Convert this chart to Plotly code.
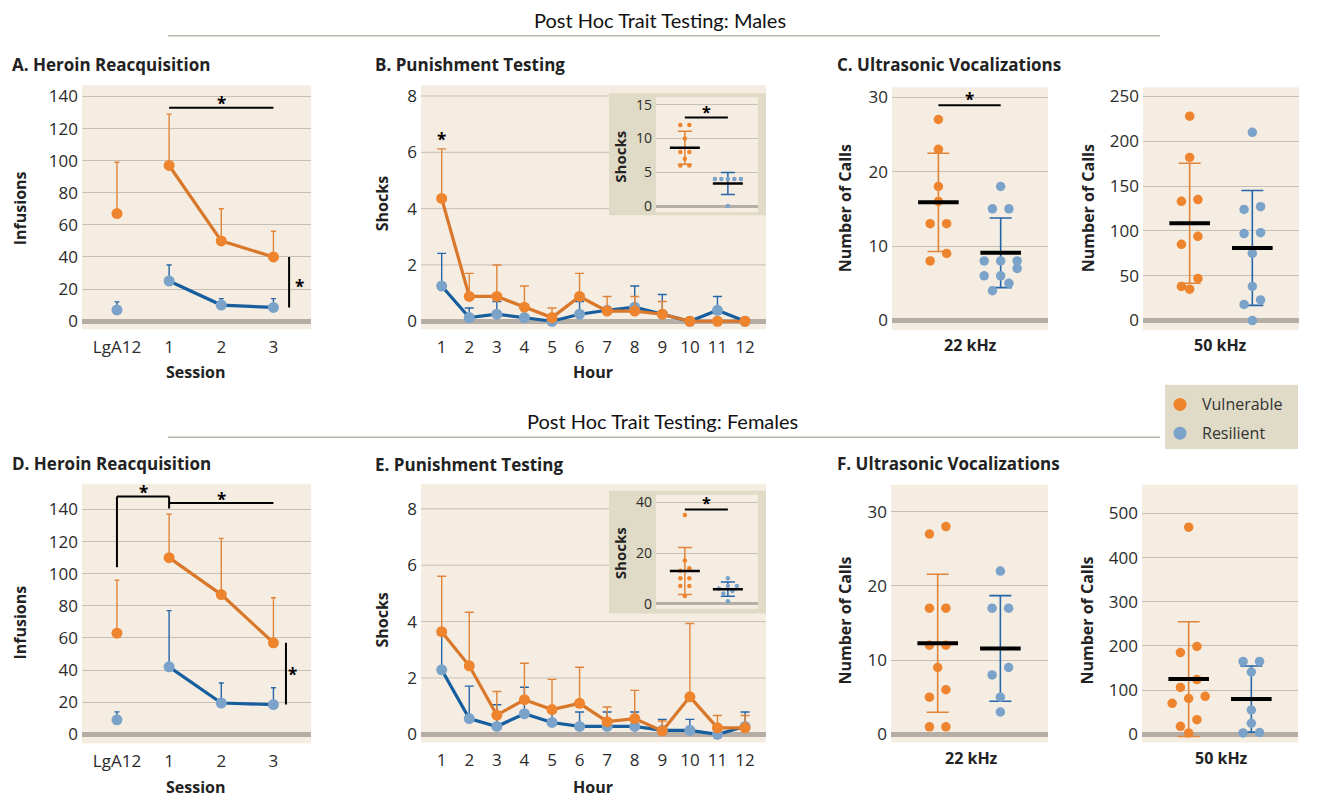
import numpy as np
import plotly.graph_objects as go

W, H = 1317, 802
FONT = "'Open Sans', Lato, 'DejaVu Sans', sans-serif"
TXT = "#222222"

# ---------------- data ----------------
sessions = ["LgA12", "1", "2", "3"]
A_vul = [67, 97, 50, 40]
A_vul_up = [99, 129, 70, 56]
A_res = [7, 25, 10, 8.5]
A_res_up = [12, 35, 14, 14]

D_vul = [63, 110, 87, 57]
D_vul_up = [96, 137, 122, 85]
D_res = [9, 42, 19.5, 18.5]
D_res_up = [14, 77, 32, 29]

hours = list(range(1, 13))
B_vul = [4.36, 0.88, 0.88, 0.50, 0.13, 0.88, 0.36, 0.36, 0.25, 0, 0, 0]
B_vul_up = [6.12, 1.70, 2.00, 1.25, 0.47, 1.70, 0.88, 0.88, 0.70, 0, 0, 0]
B_res = [1.25, 0.13, 0.25, 0.13, 0, 0.25, 0.39, 0.50, 0.25, 0, 0.39, 0]
B_res_up = [2.41, 0.47, 0.70, 0.13, 0, 0.70, 0.39, 1.25, 0.95, 0, 0.88, 0]

E_vul = [3.64, 2.43, 0.68, 1.23, 0.88, 1.10, 0.45, 0.56, 0.12, 1.33, 0.23, 0.23]
E_vul_up = [5.61, 4.33, 1.52, 2.52, 1.95, 2.38, 0.97, 1.56, 0.47, 3.93, 0.67, 0.67]
E_res = [2.29, 0.56, 0.28, 0.73, 0.42, 0.28, 0.28, 0.28, 0.14, 0.14, 0.0, 0.28]
E_res_up = [3.53, 1.71, 1.05, 1.67, 0.80, 0.79, 0.79, 0.79, 0.53, 0.53, 0.0, 0.79]

B_ins_vul = [12, 12, 10, 8, 8, 7, 6, 6]
B_ins_res = [4, 4, 4, 4, 4, 0]
E_ins_vul = [35, 17, 14, 13, 10, 10, 7, 7, 3]
E_ins_res = [10, 7, 7, 6, 5, 4, 1]

C22_vul = [27, 23, 18, 16, 13, 13, 9, 8]
C22_res = [18, 15, 15, 8, 8, 8, 7, 6, 6, 5, 4]
C50_vul = [228, 182, 135, 133, 94, 85, 47, 38, 35]
C50_res = [210, 127, 124, 98, 97, 75, 38, 23, 18, 0]
F22_vul = [28, 27, 17, 17, 12, 12, 9, 6, 5, 1, 1]
F22_res = [22, 17, 17, 9, 8, 5, 3]
F50_vul = [469, 199, 185, 124, 106, 86, 81, 70, 33, 18, 3]
F50_res = [165, 165, 141, 55, 25, 4, 3]

groups = ["Vulnerable", "Resilient"]

# ---------------- style ----------------
BG = "#F5EDE2"
INSET_BG = "#E0DBC6"
GRID = "#C6BFB6"
ZERO = "#B4AEA6"
OR_LINE = "#D9782B"
OR_MK = "#EE842D"
OR_ERR = "#E0843A"
BL_LINE = "#175E9E"
BL_MK = "#7BA3CA"
BL_ERR = "#2466A8"
TICK = "#2b2b2b"

# panel geometry in pixels: (left, right, top, bottom)
panels = {
    1: dict(px=(82, 311, 83, 329), xr=(-0.67, 3.72), yr=(-5, 147), dtick=20),
    2: dict(px=(421, 766, 83, 329), xr=(0.25, 12.76), yr=(-0.28, 8.38), dtick=2, grid=False),
    3: dict(px=(656, 758, 95, 211), xr=(-0.67, 1.70), yr=(-0.9, 16.1), dtick=5, zw=3, tfs=14),
    4: dict(px=(892, 1048, 85, 330), xr=(-0.745, 1.76), yr=(-1.29, 31.33), dtick=10),
    5: dict(px=(1143, 1299, 85, 330), xr=(-0.745, 1.745), yr=(-10.7, 260.3), dtick=50),
    6: dict(px=(82, 311, 485, 747), xr=(-0.67, 3.72), yr=(-5.7, 156), dtick=20),
    7: dict(px=(421, 766, 485, 746), xr=(0.25, 12.76), yr=(-0.29, 8.89), dtick=2, grid=False),
    8: dict(px=(656, 758, 496, 611), xr=(-0.67, 1.70), yr=(-1.95, 43), dtick=20, zw=3, tfs=14),
    9: dict(px=(891, 1048, 486, 746), xr=(-0.745, 1.76), yr=(-1.11, 33.64), dtick=10),
    10: dict(px=(1142, 1298, 486, 746), xr=(-0.745, 1.745), yr=(-18.6, 565), dtick=100),
}


def an(i, k):
    return k if i == 1 else f"{k}{i}"


def ppu_x(i):
    p = panels[i]
    return (p["px"][1] - p["px"][0]) / (p["xr"][1] - p["xr"][0])


def ppu_y(i):
    p = panels[i]
    return (p["px"][3] - p["px"][2]) / (p["yr"][1] - p["yr"][0])


fig = go.Figure()
layout = dict(
    width=W, height=H, margin=dict(l=0, r=0, t=0, b=0),
    paper_bgcolor="white", plot_bgcolor="rgba(0,0,0,0)",
    showlegend=False, font=dict(family=FONT, color=TXT, size=16),
)

shapes = []
annotations = []

for i, p in panels.items():
    x0, x1, y0, y1 = p["px"]
    xa = dict(domain=[x0 / W, x1 / W], range=list(p["xr"]), anchor=an(i, "y"),
              showgrid=False, zeroline=False, showline=False, ticks="",
              fixedrange=True, showticklabels=False, ticklabelstandoff=6,
              tickfont=dict(size=17, color=TICK))
    if i in (1, 6):
        xa.update(showticklabels=True, tickmode="array", tickvals=list(range(len(sessions))),
                  ticktext=sessions)
    if i in (2, 7):
        xa.update(showticklabels=True, tickmode="array", tickvals=hours,
                  ticktext=[str(h) for h in hours])
    ya = dict(domain=[1 - y1 / H, 1 - y0 / H], range=list(p["yr"]), anchor=an(i, "x"),
              tick0=0, dtick=p["dtick"], showgrid=p.get("grid", True), gridcolor=GRID,
              gridwidth=1, zeroline=True, zerolinecolor=ZERO, zerolinewidth=p.get("zw", 5),
              showline=False, ticks="", fixedrange=True, ticklabelstandoff=3,
              tickfont=dict(size=p.get("tfs", 17), color=TICK))
    layout["xaxis" if i == 1 else f"xaxis{i}"] = xa
    layout["yaxis" if i == 1 else f"yaxis{i}"] = ya

# backgrounds for main panels
for i in panels:
    if i in (3, 8):
        continue
    shapes.append(dict(type="rect", xref=f"{an(i,'x')} domain", yref=f"{an(i,'y')} domain",
                       x0=0, x1=1, y0=0, y1=1, fillcolor=BG, line=dict(width=0), layer="below"))
# gridlines for panels holding insets (so the inset covers them)
for i, vals in ((2, [2, 4, 6, 8]), (7, [2, 4, 6, 8])):
    for v in vals:
        shapes.append(dict(type="line", xref=f"{an(i,'x')} domain", yref=an(i, "y"),
                           x0=0, x1=1, y0=v, y1=v, line=dict(color=GRID, width=1), layer="below"))
# inset frames
for i, outer in ((3, (609, 766, 91, 214)), (8, (609, 766, 492, 616))):
    shapes.append(dict(type="rect", xref="paper", yref="paper",
                       x0=outer[0] / W, x1=outer[1] / W, y0=1 - outer[3] / H, y1=1 - outer[2] / H,
                       fillcolor=INSET_BG, line=dict(width=0), layer="below"))
    shapes.append(dict(type="rect", xref=f"{an(i,'x')} domain", yref=f"{an(i,'y')} domain",
                       x0=0, x1=1, y0=0, y1=1, fillcolor=BG, line=dict(width=0), layer="below"))


# ---------------- line panels ----------------
def line_group(i, vals, upper, lc, mc, ec, start, cap, xs):
    xa, ya = an(i, "x"), an(i, "y")
    fig.add_trace(go.Scatter(x=xs[start:], y=vals[start:], mode="lines",
                             line=dict(color=lc, width=3.2), xaxis=xa, yaxis=ya, hoverinfo="skip"))
    fig.add_trace(go.Scatter(x=xs, y=vals, mode="markers",
                             marker=dict(size=11, color=mc),
                             error_y=dict(type="data", symmetric=False,
                                          array=[max(u - v, 0) for u, v in zip(upper, vals)],
                                          arrayminus=[0] * len(vals), color=ec,
                                          thickness=1.4, width=cap),
                             xaxis=xa, yaxis=ya))


sx = list(range(len(sessions)))
line_group(1, A_res, A_res_up, BL_LINE, BL_MK, BL_ERR, 1, 2.5, sx)
line_group(1, A_vul, A_vul_up, OR_LINE, OR_MK, OR_ERR, 1, 2.5, sx)
line_group(6, D_res, D_res_up, BL_LINE, BL_MK, BL_ERR, 1, 2.5, sx)
line_group(6, D_vul, D_vul_up, OR_LINE, OR_MK, OR_ERR, 1, 2.5, sx)
line_group(2, B_res, B_res_up, BL_LINE, BL_MK, BL_ERR, 0, 4.5, hours)
line_group(2, B_vul, B_vul_up, OR_LINE, OR_MK, OR_ERR, 0, 4.5, hours)
line_group(7, E_res, E_res_up, BL_LINE, BL_MK, BL_ERR, 0, 4.5, hours)
line_group(7, E_vul, E_vul_up, OR_LINE, OR_MK, OR_ERR, 0, 4.5, hours)


# ---------------- dot plots ----------------
def jitter(values, pyu, tol, spacing, max_row, max_half):
    order = sorted(range(len(values)), key=lambda k: -values[k])
    rows = []
    for k in order:
        if rows and len(rows[-1]) < max_row and (values[rows[-1][0]] - values[k]) * pyu < tol:
            rows[-1].append(k)
        else:
            rows.append([k])
    offs = [0.0] * len(values)
    for r in rows:
        r = sorted(r, key=lambda k: values[k])
        n = len(r)
        sp = spacing if n == 1 else min(spacing, 2 * max_half / (n - 1))
        for j, k in enumerate(r):
            offs[k] = (j - (n - 1) / 2) * sp
    return offs


def dot_group(i, g, vals, mc, ec, inset=False):
    xa, ya = an(i, "x"), an(i, "y")
    if inset:
        size, tol, spacing, max_row, max_half, mh, mw, cap, et = 4.5, 4, 9, 5, 13, 15, 2.5, 7, 1.5
    else:
        size, tol, spacing, max_row, max_half, mh, mw, cap, et = 9.5, 8.5, 16.5, 3, 17, 20.3, 4, 11, 1.6
    offs = jitter(vals, ppu_y(i), tol, spacing, max_row, max_half)
    xs = [g + o / ppu_x(i) for o in offs]
    m = float(np.mean(vals))
    sd = float(np.std(vals, ddof=1))
    fig.add_trace(go.Scatter(x=[g], y=[m], mode="markers", marker=dict(size=1, opacity=0),
                             error_y=dict(type="data", array=[sd], symmetric=True, color=ec,
                                          thickness=et, width=cap),
                             xaxis=xa, yaxis=ya, hoverinfo="skip"))
    fig.add_trace(go.Scatter(x=xs, y=vals, mode="markers", marker=dict(size=size, color=mc),
                             xaxis=xa, yaxis=ya, name=groups[g]))
    h = mh / ppu_x(i)
    fig.add_trace(go.Scatter(x=[g - h, g + h], y=[m, m], mode="lines",
                             line=dict(color="black", width=mw), xaxis=xa, yaxis=ya,
                             hoverinfo="skip"))


for i, vv, rr, ins in ((3, B_ins_vul, B_ins_res, True), (8, E_ins_vul, E_ins_res, True),
                       (4, C22_vul, C22_res, False), (5, C50_vul, C50_res, False),
                       (9, F22_vul, F22_res, False), (10, F50_vul, F50_res, False)):
    dot_group(i, 0, vv, OR_MK, OR_ERR, ins)
    dot_group(i, 1, rr, BL_MK, BL_ERR, ins)


# ---------------- significance marks ----------------
def seg(i, x0, y0, x1, y1, w=2):
    shapes.append(dict(type="line", xref=an(i, "x"), yref=an(i, "y"), x0=x0, y0=y0, x1=x1, y1=y1,
                       line=dict(color="black", width=w)))


def star(i, x, y, size=17):
    annotations.append(dict(xref=an(i, "x"), yref=an(i, "y"), x=x, y=y, text="<b>*</b>",
                            showarrow=False, font=dict(size=size, color="black"),
                            xanchor="center", yanchor="middle", yshift=-1))


seg(1, 1, 133, 3, 133)
star(1, 2, 136)
seg(1, 3.3, A_res[3], 3.3, A_vul[3])
star(1, 3.5, 22)

seg(6, 0, 104, 0, 148)
seg(6, 0, 148, 1, 148)
seg(6, 1, 148, 1, 140.6)
seg(6, 1, 144, 3, 144)
star(6, 0.5, 151)
star(6, 2, 147)
seg(6, 3.24, D_res[3], 3.24, D_vul[3])
star(6, 3.37, 38)

star(2, 1, 6.5)
seg(3, 0, 13.1, 1, 13.1)
star(3, 0.5, 14.1, 16)
seg(8, 0, 37.2, 1, 37.2)
star(8, 0.5, 40.2, 16)
seg(4, 0, 28.9, 1, 28.9)
star(4, 0.5, 29.8)


# ---------------- text ----------------
def text(x, y, s, size=16, bold=True, anchor="left", angle=0, family=FONT, color=TXT):
    annotations.append(dict(xref="paper", yref="paper", x=x / W, y=1 - y / H,
                            text=f"<b>{s}</b>" if bold else s, showarrow=False,
                            font=dict(size=size, color=color, family=family),
                            xanchor=anchor, yanchor="middle", textangle=angle))


HEAD_FONT = "'Liberation Sans Narrow', Lato, sans-serif"
text(660, 17, "Post Hoc Trait Testing: Males", 20, False, "center", family=HEAD_FONT, color="#111")
text(662, 422, "Post Hoc Trait Testing: Females", 20, False, "center", family=HEAD_FONT, color="#111")
for y in (33, 438):
    shapes.append(dict(type="line", xref="paper", yref="paper", x0=168 / W, x1=1160 / W,
                       y0=1 - y / H, y1=1 - y / H, line=dict(color="#B9B3AB", width=1.5)))

text(10, 62, "A. Heroin Reacquisition", 17)
text(373, 62, "B. Punishment Testing", 17)
text(835, 62, "C. Ultrasonic Vocalizations", 17)
text(10, 465, "D. Heroin Reacquisition", 17)
text(373, 466, "E. Punishment Testing", 17)
text(835, 465, "F. Ultrasonic Vocalizations", 17)

text(20, 207, "Infusions", anchor="center", angle=-90)
text(20, 625, "Infusions", anchor="center", angle=-90)
text(195, 372, "Session", anchor="center")
text(195, 791, "Session", anchor="center")
text(382, 203, "Shocks", anchor="center", angle=-90)
text(382, 623, "Shocks", anchor="center", angle=-90)
text(593, 372, "Hour", anchor="center")
text(593, 791, "Hour", anchor="center")
text(620, 155, "Shocks", 15, anchor="center", angle=-90)
text(620, 555, "Shocks", 15, anchor="center", angle=-90)
text(845, 207, "Number of Calls", anchor="center", angle=-90)
text(1088, 207, "Number of Calls", anchor="center", angle=-90)
text(845, 623, "Number of Calls", anchor="center", angle=-90)
text(1087, 623, "Number of Calls", anchor="center", angle=-90)
text(970, 345, "22 kHz", anchor="center")
text(1220, 345, "50 kHz", anchor="center")
text(971, 762, "22 kHz", anchor="center")
text(1221, 762, "50 kHz", anchor="center")

# legend
shapes.append(dict(type="rect", xref="paper", yref="paper", x0=1165 / W, x1=1298 / W,
                   y0=1 - 450 / H, y1=1 - 385 / H, fillcolor=INSET_BG, line=dict(width=0)))
for (yy, col, name) in ((405, OR_MK, groups[0]), (434, BL_MK, groups[1])):
    shapes.append(dict(type="circle", xref="paper", yref="paper", xsizemode="pixel",
                       ysizemode="pixel", xanchor=1180 / W, yanchor=1 - yy / H,
                       x0=-6.5, x1=6.5, y0=-6.5, y1=6.5, fillcolor=col, line=dict(width=0)))
    text(1200, yy, name, 16, False, "left", color="#333")

layout["shapes"] = shapes
layout["annotations"] = annotations
fig.update_layout(**layout)

fig.write_html("out.html", config={"displayModeBar": False},
               post_script="document.body.style.margin='0';")
